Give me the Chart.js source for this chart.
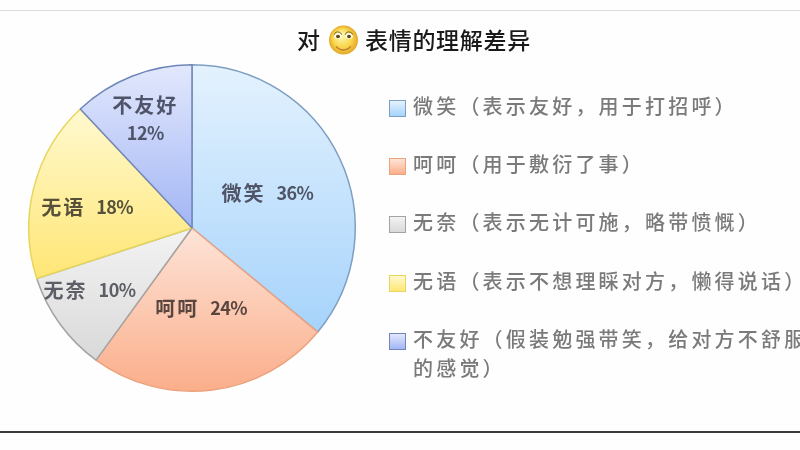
<!DOCTYPE html>
<html lang="zh">
<head>
<meta charset="utf-8">
<style>
html,body{margin:0;padding:0;background:#fefefe;width:800px;height:450px;overflow:hidden;font-family:"Noto Sans CJK SC",sans-serif}
#wrap{position:relative;width:800px;height:450px;overflow:hidden;filter:blur(0.5px)}
#topline{position:absolute;left:0;top:10px;width:800px;height:1px;background:#dcdcdc}
#botline{position:absolute;left:0;top:431px;width:800px;height:2px;background:#3a3a3a}
canvas{position:absolute;left:0;top:0}
#legend{position:absolute;left:0;top:0;width:800px;height:450px;pointer-events:none}
.sw{position:absolute;left:389px;width:15px;height:15px;border:1px solid}
.lt{position:absolute;left:413px;white-space:nowrap;font-size:20px;line-height:24px;letter-spacing:3.2px;color:#7a7a7a;font-weight:500}
</style>
</head>
<body>
<div id="wrap">
<div id="topline"></div>
<div id="botline"></div>
<canvas id="c" width="800" height="450"></canvas>
<div id="legend"></div>
</div>
<script src="https://cdn.jsdelivr.net/npm/chart.js@4"></script>
<script>
const categories = ["微笑","呵呵","无奈","无语","不友好"];
const values = [36,24,10,18,12];
const legendLines = [
  ["微笑（表示友好，用于打招呼）"],
  ["呵呵（用于敷衍了事）"],
  ["无奈（表示无计可施，略带愤慨）"],
  ["无语（表示不想理睬对方，懒得说话）"],
  ["不友好（假装勉强带笑，给对方不舒服","的感觉）"]
];
const titleBefore = "对";
const titleAfter = "表情的理解差异";
const gradTop = ["#e4f2fe","#fde4d8","#f3f3f3","#fff9cf","#e2e8fc"];
const gradBottom = ["#a6d3fb","#fbae8a","#d9d9d9","#ffe675","#a3b6f5"];
const borders = ["#7e9fc2","#eda27e","#a3a3a3","#e6d65e","#6f86b8"];
const labelColors = ["#4f5566","#5a4640","#5c6066","#56503a","#50546a"];
// label centre relative to pie centre, as a fraction of radius
const labelSpots = [[0.46,-0.21],[0.055,0.49],[-0.625,0.38],[-0.64,-0.125],[-0.285,-0.665]];
const legendY = [107,165,223,282,340];

function fillFor(ctx){
  const chart = ctx.chart, a = chart.chartArea, i = ctx.dataIndex;
  if(!a) return gradBottom[i];
  const total = values.reduce((s,v)=>s+v,0);
  const before = values.slice(0,i).reduce((s,v)=>s+v,0);
  const r = (a.bottom-a.top)/2, cy = (a.top+a.bottom)/2;
  const ang0 = before/total*2*Math.PI, ang1 = (before+values[i])/total*2*Math.PI;
  const ys = [cy, cy-r*Math.cos(ang0), cy-r*Math.cos(ang1)];
  if(ang0<=Math.PI && ang1>=Math.PI) ys.push(cy+r);
  if(ang0===0) ys.push(cy-r);
  const g = chart.ctx.createLinearGradient(0,Math.min(...ys),0,Math.max(...ys));
  g.addColorStop(0,gradTop[i]);
  g.addColorStop(1,gradBottom[i]);
  return g;
}

const nameFont='700 20px "Noto Sans CJK SC"';
const pctFont='700 18px "Noto Sans CJK SC"';
const overlay = {
  id:"overlay",
  afterDraw(chart){
    const c = chart.ctx, a = chart.chartArea;
    const cx=(a.left+a.right)/2, cy=(a.top+a.bottom)/2, r=(a.bottom-a.top)/2;
    c.save();
    c.textBaseline="middle";
    categories.forEach((name,i)=>{
      c.fillStyle=labelColors[i];
      const x=cx+labelSpots[i][0]*r, y=cy+labelSpots[i][1]*r;
      const pct=values[i]+"%";
      if(name.length>2){
        c.textAlign="center";
        c.font=nameFont; c.letterSpacing="2px";
        c.fillText(name,x,y-14);
        c.font=pctFont; c.letterSpacing="-0.6px";
        c.fillText(pct,x,y+14);
      } else {
        c.textAlign="left";
        c.font=nameFont; c.letterSpacing="2px";
        const nw=c.measureText(name).width;
        c.font=pctFont; c.letterSpacing="-0.6px";
        const pw=c.measureText(pct).width;
        const gap=11, x0=x-(nw+gap+pw)/2;
        c.font=nameFont; c.letterSpacing="2px";
        c.fillText(name,x0,y);
        c.font=pctFont; c.letterSpacing="-0.6px";
        c.fillText(pct,x0+nw+gap,y);
      }
    });
    // title
    c.letterSpacing="0.7px";
    c.fillStyle="#1a1a1a";
    c.font='500 23px "Noto Sans CJK SC"';
    c.textAlign="left";
    c.fillText(titleBefore,297,40);
    c.fillText(titleAfter,365,40);
    c.letterSpacing="0px";
    // smiley
    const sx=343.5, sy=40, sr=14.5;
    const g=c.createRadialGradient(sx-3,sy-5,2,sx,sy,sr);
    g.addColorStop(0,"#fff6a8"); g.addColorStop(.6,"#f9d54a"); g.addColorStop(1,"#e3a828");
    c.fillStyle=g; c.beginPath(); c.arc(sx,sy,sr,0,Math.PI*2); c.fill();
    [-5.5,5.5].forEach(d=>{
      c.fillStyle="#fffbe0"; c.beginPath();c.ellipse(sx+d,sy-4,4,3,0,0,Math.PI*2);c.fill();
      c.fillStyle="#5c4a1c"; c.beginPath();c.ellipse(sx+d,sy-3.5,2,1.8,0,0,Math.PI*2);c.fill();
      c.strokeStyle="#7a6024"; c.lineWidth=1; c.beginPath();c.arc(sx+d,sy-4,4,1.1*Math.PI,1.9*Math.PI);c.stroke();
    });
    c.strokeStyle="#c07a30"; c.lineWidth=1.3;
    c.beginPath(); c.arc(sx,sy+1,9,0.2*Math.PI,0.8*Math.PI); c.stroke();
    c.restore();
  }
};

new Chart(document.getElementById("c"),{
  type:"pie",
  data:{labels:categories,datasets:[{
    data:values,
    backgroundColor:fillFor,
    borderColor:borders,
    borderWidth:1.5,
    hoverOffset:0
  }]},
  options:{
    responsive:false,
    animation:false,
    rotation:0,
    layout:{padding:{left:28,right:444,top:64,bottom:58}},
    plugins:{legend:{display:false},title:{display:false},tooltip:{enabled:false}}
  },
  plugins:[overlay]
});

const lg=document.getElementById("legend");
categories.forEach((name,i)=>{
  const s=document.createElement("div");
  s.className="sw";
  s.style.top=(legendY[i]-7)+"px";
  s.style.background="linear-gradient("+gradTop[i]+","+gradBottom[i]+")";
  s.style.borderColor=borders[i];
  lg.appendChild(s);
  legendLines[i].forEach((t,j)=>{
    const d=document.createElement("div");
    d.className="lt";
    d.style.top=(legendY[i]-13+j*29)+"px";
    d.textContent=t;
    lg.appendChild(d);
  });
});
</script>
</body>
</html>
